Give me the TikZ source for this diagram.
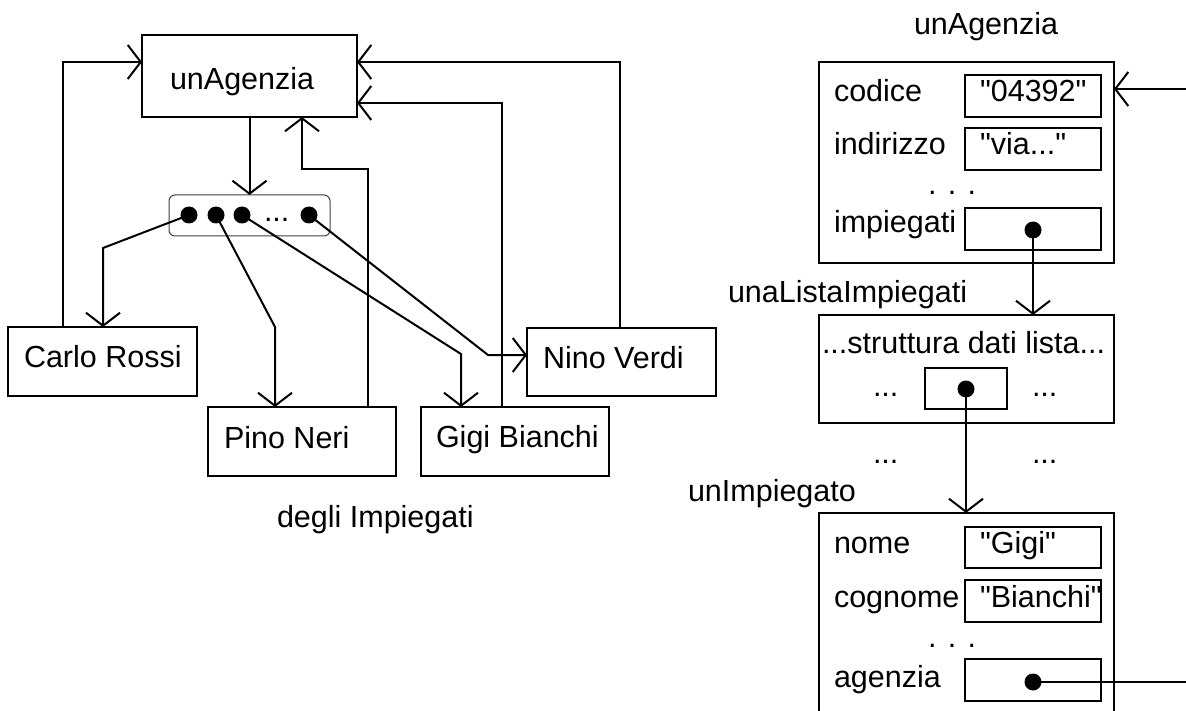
\documentclass[tikz,border=0pt]{standalone}
\usepackage{fontspec}
\setmainfont[Ligatures=TeXOff]{Liberation Sans}
\usetikzlibrary{arrows.meta}
\begin{document}
\begin{tikzpicture}[x=1pt,y=-1pt,
  box/.style={draw, line width=2pt, inner sep=0pt, outer sep=0pt, rectangle},
  listbox/.style={draw=black!75, line width=1pt, rounded corners=6pt, inner sep=0pt, outer sep=0pt},
  txt/.style={anchor=base west, inner sep=0pt, outer sep=0pt, font=\fontsize{30.5}{36}\selectfont},
  conn/.style={line width=2pt, -{Straight Barb[length=13pt,width=34pt]}},
  ln/.style={line width=2pt},
  dotnode/.style={circle, fill=black, inner sep=0pt, outer sep=0pt, minimum size=17pt},
]
\useasboundingbox (0,0) rectangle (1186,711);

% ---------- left diagram ----------
\node[box, minimum width=215pt, minimum height=82pt] (ag) at (249.5,76) {};
\node[txt] (tag) at (170,90) {unAgenzia};
\node[listbox, minimum width=161pt, minimum height=41pt] (lst) at (249.5,215.5) {};
\node[dotnode] (d1) at (189,215) {};
\node[dotnode] (d2) at (216,215) {};
\node[dotnode] (d3) at (242,215) {};
\node[dotnode] (d4) at (309,215) {};
\node[txt] (tdots) at (264,222) {...};

\node[box, minimum width=189pt, minimum height=69pt] (cr) at (102.5,361.5) {};
\node[txt] (tcr) at (24,367) {Carlo Rossi};
\node[box, minimum width=188pt, minimum height=69pt] (pn) at (302,441.5) {};
\node[txt] (tpn) at (224,448) {Pino Neri};
\node[box, minimum width=188pt, minimum height=69pt] (gb) at (515,441.5) {};
\node[txt] (tgb) at (436,447) {Gigi Bianchi};
\node[box, minimum width=189pt, minimum height=68pt] (nv) at (621.5,362) {};
\node[txt] (tnv) at (543,368) {Nino Verdi};
\node[txt] (tdi) at (277,527) {degli Impiegati};

\draw[conn] (ag.south) -- (lst.north);
\draw[conn] (d1.center) -- (103,248) -- (103,248 |- cr.north);
\draw[conn] (d2.center) -- (275,327) -- (275,327 |- pn.north);
\draw[conn] (d3.center) -- (461,354) -- (461,354 |- gb.north);
\draw[conn] (d4.center) -- (488,355) -- (nv.west |- 488,355);
\draw[conn] (63,0 |- cr.north) -- (63,62) -- (ag.west |- 0,62);
\draw[conn] (620,0 |- nv.north) -- (620,62) -- (ag.east |- 0,62);
\draw[conn] (502,0 |- gb.north) -- (502,103) -- (ag.east |- 0,103);
\draw[conn] (368,0 |- pn.north) -- (368,169) -- (302,169) -- (302,0 |- ag.south);

% ---------- right diagram ----------
\node[txt] (tag2) at (914,35) {unAgenzia};
\node[box, minimum width=295pt, minimum height=201pt] (b1) at (966.5,162.5) {};
\node[txt] (tcod) at (834,102) {codice};
\node[box, minimum width=136pt, minimum height=42pt] (v1) at (1033,96) {};
\node[txt] (tv1) at (980,102) {"04392"};
\node[txt] (tind) at (834,155) {indirizzo};
\node[box, minimum width=136pt, minimum height=42pt] (v2) at (1033,149) {};
\node[txt] (tv2) at (980,155) {"via..."};
\node[txt] (tdd1) at (928,195) {. . .};
\node[txt] (timp) at (834,233) {impiegati};
\node[box, minimum width=136pt, minimum height=42pt] (v3) at (1033,229) {};
\node[dotnode] (p1) at (1033,230) {};

\node[txt] (tlis) at (728,302) {unaListaImpiegati};
\node[box, minimum width=295pt, minimum height=108pt] (b2) at (966.5,369) {};
\node[txt] (tstr) at (822,353) {...struttura dati lista...};
\node[box, minimum width=82pt, minimum height=41pt] (ib) at (966,388.5) {};
\node[dotnode] (p2) at (966,389) {};
\node[txt] (tl1) at (873,396) {...};
\node[txt] (tr1) at (1032,396) {...};
\node[txt] (tl2) at (873,463) {...};
\node[txt] (tr2) at (1032,463) {...};

\node[txt] (tuni) at (688,501) {unImpiegato};
\node[box, minimum width=295pt, minimum height=217pt] (b3) at (966.5,621.5) {};
\node[txt] (tnom) at (834,553) {nome};
\node[box, minimum width=136pt, minimum height=41pt] (w1) at (1033,547.5) {};
\node[txt] (tw1) at (980,553) {"Gigi"};
\node[txt] (tcog) at (834,607) {cognome};
\node[box, minimum width=136pt, minimum height=42pt] (w2) at (1033,601) {};
\node[txt] (tw2) at (980,607) {"Bianchi"};
\node[txt] (tdd2) at (928,647) {. . .};
\node[txt] (tage) at (834,687) {agenzia};
\node[box, minimum width=136pt, minimum height=42pt] (w3) at (1033,680) {};
\node[dotnode] (p3) at (1033,682) {};

\coordinate (e1) at (1186,89);
\coordinate (e2) at (1186,682);
\draw[conn] (e1) -- (b1.east |- e1);
\draw[conn] (p1.center) -- (p1.center |- b2.north);
\draw[conn] (p2.center) -- (p2.center |- b3.north);
\draw[ln] (p3.center) -- (e2);
\end{tikzpicture}
\end{document}
